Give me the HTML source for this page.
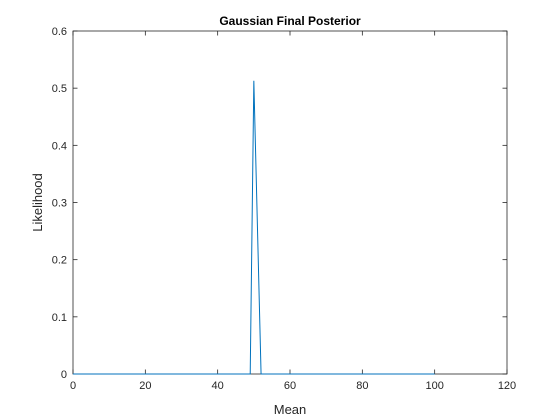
<!DOCTYPE html>
<html><head><meta charset="utf-8"><style>body{margin:0;background:#fff}svg{display:block;font-family:"Liberation Sans",sans-serif}</style></head>
<body>
<svg id="c" width="560" height="420">
<rect x="0" y="0" width="560" height="420" fill="#fff"/>
</svg>
<script>
const xValues=[0,49,50,51,52,100];
const yValues=[0,0,0.513,0.2565,0,0];
const xTicks=[0,20,40,60,80,100,120];
const yTicks=[0,0.1,0.2,0.3,0.4,0.5,0.6];
const L=73,R=507,T=31,B=374;
const sx=v=>L+(v-0)/120*(R-L), sy=v=>B-(v/0.6)*(B-T);
const svg=document.getElementById('c'),NS='http://www.w3.org/2000/svg';
function mk(t,a,p){const e=document.createElementNS(NS,t);for(const k in a)e.setAttribute(k,a[k]);(p||svg).appendChild(e);return e;}
const ax=mk('rect',{x:L,y:T,width:R-L,height:B-T,fill:'#fff',stroke:'#262626','stroke-width':0.8});


xTicks.forEach(v=>{const x=sx(v);
mk('line',{x1:x,x2:x,y1:B,y2:B-4.5,stroke:'#262626','stroke-width':0.8});
mk('line',{x1:x,x2:x,y1:T,y2:T+4.5,stroke:'#262626','stroke-width':0.8});
const t=mk('text',{x:x,y:B+15,'text-anchor':'middle','font-size':11,fill:'#262626'});t.textContent=v;

});
yTicks.forEach(v=>{const y=sy(v);
mk('line',{x1:L,x2:L+4.5,y1:y,y2:y,stroke:'#262626','stroke-width':0.8});
mk('line',{x1:R,x2:R-4.5,y1:y,y2:y,stroke:'#262626','stroke-width':0.8});
const t=mk('text',{x:L-6,y:y+4,'text-anchor':'end','font-size':11,fill:'#262626'});t.textContent=v===0?'0':v.toFixed(1);

});
const pl=mk('polyline',{points:xValues.map((v,i)=>sx(v)+','+sy(yValues[i])).join(' '),fill:'none',stroke:'#0072bd','stroke-width':1});


let t=mk('text',{x:(L+R)/2,y:25,'text-anchor':'middle','font-size':12,'font-weight':'bold',fill:'#000'});t.textContent='Gaussian Final Posterior';


t=mk('text',{x:(L+R)/2,y:414,'text-anchor':'middle','font-size':13,fill:'#262626'});t.textContent='Mean';


t=mk('text',{x:42,y:(T+B)/2,'text-anchor':'middle','font-size':13,fill:'#262626',transform:'rotate(-90 42 '+(T+B)/2+')'});t.textContent='Likelihood';


</script>
</body></html>
